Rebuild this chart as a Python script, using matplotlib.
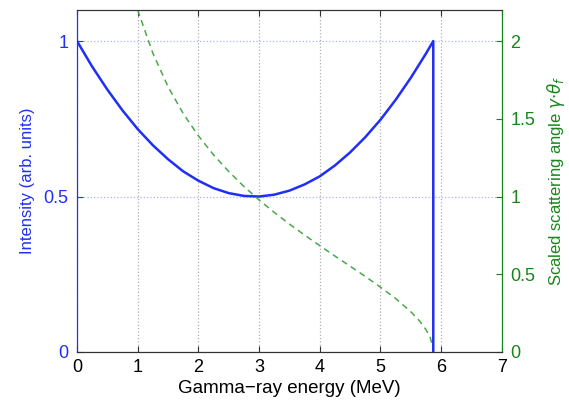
import numpy as np
import matplotlib.pyplot as plt

plt.rcParams['font.family'] = ['Liberation Sans', 'DejaVu Sans']

# intensity spectrum (left axis)
energy = [0, 0.25, 0.5, 0.75, 1.0, 1.25, 1.5, 1.75, 2.0, 2.25, 2.5, 2.75, 3.0,
          3.25, 3.5, 3.75, 4.0, 4.25, 4.5, 4.75, 5.0, 5.25, 5.5, 5.75, 5.87, 5.87]
intensity = [1.0, 0.918, 0.844, 0.777, 0.717, 0.665, 0.620, 0.581, 0.551, 0.527,
             0.511, 0.502, 0.500, 0.506, 0.519, 0.539, 0.565, 0.600, 0.642, 0.691,
             0.747, 0.811, 0.882, 0.960, 1.0, 0.0]

# scaled scattering angle (right axis)
energy_g = [1.0, 1.25, 1.5, 1.75, 2.0, 2.25, 2.5, 2.75, 3.0, 3.25, 3.5, 3.75, 4.0,
            4.25, 4.5, 4.75, 5.0, 5.25, 5.5, 5.65, 5.75, 5.82, 5.85]
angle = [2.2, 1.922, 1.707, 1.534, 1.391, 1.268, 1.161, 1.065, 0.978, 0.898, 0.823,
         0.752, 0.684, 0.617, 0.552, 0.486, 0.417, 0.344, 0.259, 0.197, 0.144, 0.093, 0.05]

blue = '#1f2ff5'
green_txt = '#17861a'
green_line = '#4aa84a'

fig = plt.figure(figsize=(5.69, 4.05), dpi=100)
ax = fig.add_axes([0.1353, 0.1309, 0.7467, 0.8444])
ax2 = ax.twinx()

ax.plot(energy, intensity, color=blue, lw=1.8)
ax2.plot(energy_g, angle, color=green_line, lw=1.1, ls=(0, (4, 3)))

ax.set_xlim(0, 7)
ax.set_ylim(0, 1.1)
ax2.set_ylim(0, 2.2)
ax.set_xticks(range(8))
ax.set_yticks([0, 0.5, 1])
ax.set_yticklabels(['0', '0.5', '1'])
ax2.set_yticks([0, 0.5, 1, 1.5, 2])
ax2.set_yticklabels(['0', '0.5', '1', '1.5', '2'])

ax.xaxis.grid(True, color='#b0b0b0', ls=':', lw=0.9)
ax.yaxis.grid(True, color='#a8b4ff', ls=':', lw=0.9)

ax.tick_params(axis='x', direction='in', top=True, labelsize=13, length=4,
               color='#333333', pad=5)
ax.tick_params(axis='y', direction='in', labelsize=13, length=4,
               colors=blue, pad=6)
ax2.tick_params(axis='y', direction='in', labelsize=13, length=4,
                colors=green_txt, pad=6)

for a in (ax, ax2):
    a.spines['top'].set_color('#333333')
    a.spines['bottom'].set_color('#333333')
    a.spines['left'].set_color(blue)
    a.spines['right'].set_color(green_txt)

ax.set_xlabel('Gamma\u2212ray energy (MeV)', fontsize=13.5, labelpad=3)
ax.set_ylabel('Intensity (arb. units)', fontsize=12, color=blue, labelpad=6)
ax2.set_ylabel(r'Scaled scattering angle $\gamma{\cdot}\theta_f$', fontsize=12,
               color=green_txt, labelpad=7)

fig.savefig('out.png', dpi=100)
